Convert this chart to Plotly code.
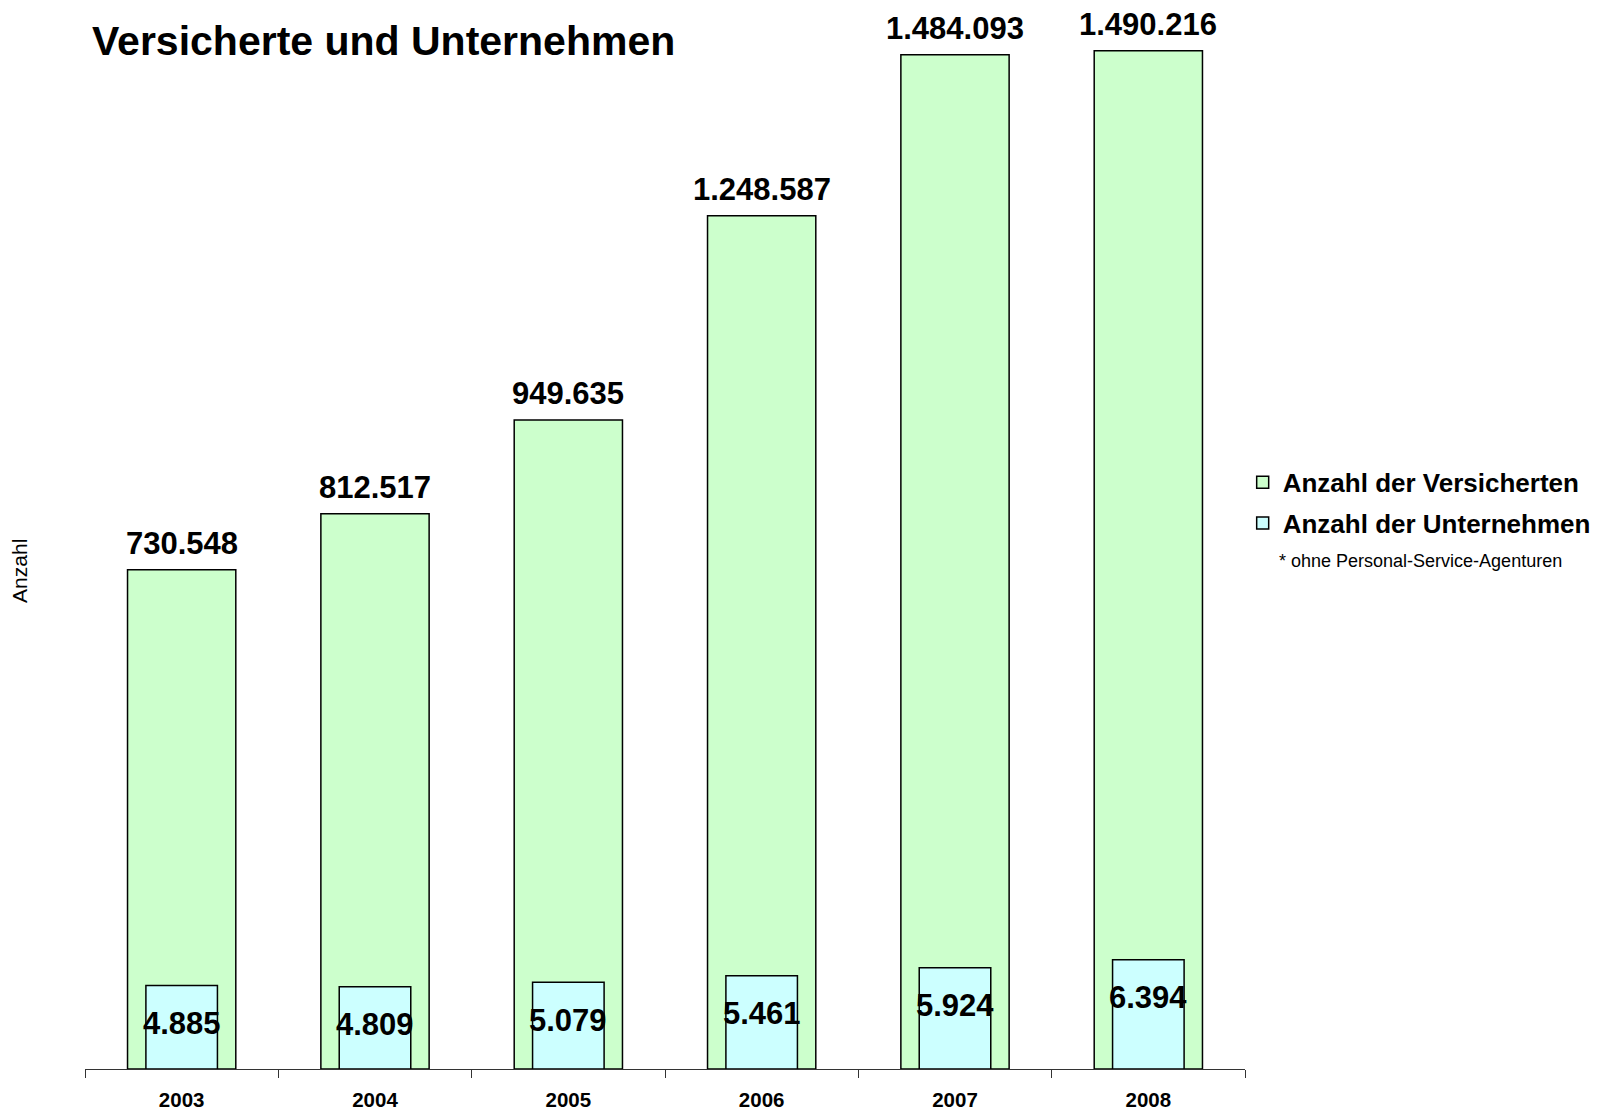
import plotly.graph_objects as go

years = ["2003", "2004", "2005", "2006", "2007", "2008"]
versicherte = [730548, 812517, 949635, 1248587, 1484093, 1490216]
unternehmen = [4885, 4809, 5079, 5461, 5924, 6394]

title_text = "Versicherte und Unternehmen"
name_v = "Anzahl der Versicherten"
name_u = "Anzahl der Unternehmen"
footnote = "* ohne Personal-Service-Agenturen"
y_title = "Anzahl"

def de_fmt(v):
    return f"{v:,}".replace(",", ".")

FONT = "Arial, 'Liberation Sans', sans-serif"

fig = go.Figure()
fig.add_trace(go.Bar(
    x=years, y=versicherte, name=name_v, legendgroup="v",
    marker=dict(color="#CCFFCC", line=dict(color="#000000", width=1.5)),
    width=0.56, offset=-0.28, yaxis="y",
))
fig.add_trace(go.Bar(
    x=years, y=unternehmen, name=name_u, legendgroup="u",
    marker=dict(color="#CCFFFF", line=dict(color="#000000", width=1.5)),
    width=0.37, offset=-0.185, yaxis="y2",
))

annotations = []
for i, v in enumerate(versicherte):
    annotations.append(dict(x=i, y=v, xref="x", yref="y", text=de_fmt(v),
                            showarrow=False, yanchor="bottom", yshift=8, borderpad=0,
                            font=dict(family=FONT, size=31, color="#000000", weight="bold")))
for i, v in enumerate(unternehmen):
    annotations.append(dict(x=i, y=v, xref="x", yref="y2", text=de_fmt(v),
                            showarrow=False, yanchor="middle", yshift=-38,
                            font=dict(family=FONT, size=31, color="#000000", weight="bold")))
annotations.append(dict(x=1.0276, y=0.4956, xref="paper", yref="paper", text=footnote,
                        showarrow=False, xanchor="left", yanchor="middle",
                        font=dict(family=FONT, size=18, color="#000000")))
annotations.append(dict(x=-0.056, y=0.486, xref="paper", yref="paper", text=y_title,
                        showarrow=False, xanchor="center", yanchor="middle", textangle=-90,
                        font=dict(family=FONT, size=21, color="#000000")))

W, H = 1590, 1103
fig.update_layout(
    width=W, height=H,
    paper_bgcolor="#FFFFFF", plot_bgcolor="#FFFFFF",
    margin=dict(l=77, r=353, t=36, b=42, autoexpand=False),
    barmode="overlay",
    title=dict(text=title_text, xref="container", yref="container",
               x=84 / W, xanchor="left", y=1 - 33 / H, yanchor="middle",
               font=dict(family=FONT, size=41, color="#000000", weight="bold")),
    xaxis=dict(type="category", range=[-0.5, 5.5], showgrid=False, zeroline=False,
               showline=True, linecolor="#333333", linewidth=1, automargin=False,
               ticks="outside", tickson="boundaries", ticklen=8, tickcolor="#333333",
               ticklabelstandoff=12,
               tickfont=dict(family=FONT, size=20.5, color="#000000", weight="bold")),
    yaxis=dict(range=[0, 1500000], showgrid=False, zeroline=False, showline=False,
               showticklabels=False, ticks="", automargin=False),
    yaxis2=dict(range=[0, 60000], overlaying="y", side="right", showgrid=False,
                zeroline=False, showline=False, showticklabels=False, ticks="",
                automargin=False),
    legend=dict(x=0.998, xanchor="left", y=0.5952, yanchor="top",
                font=dict(family=FONT, size=26, color="#000000", weight="bold"),
                itemwidth=30, bgcolor="rgba(0,0,0,0)", tracegroupgap=4,
                traceorder="grouped"),
    annotations=annotations,
    showlegend=True,
)

fig.write_html("out.html")
